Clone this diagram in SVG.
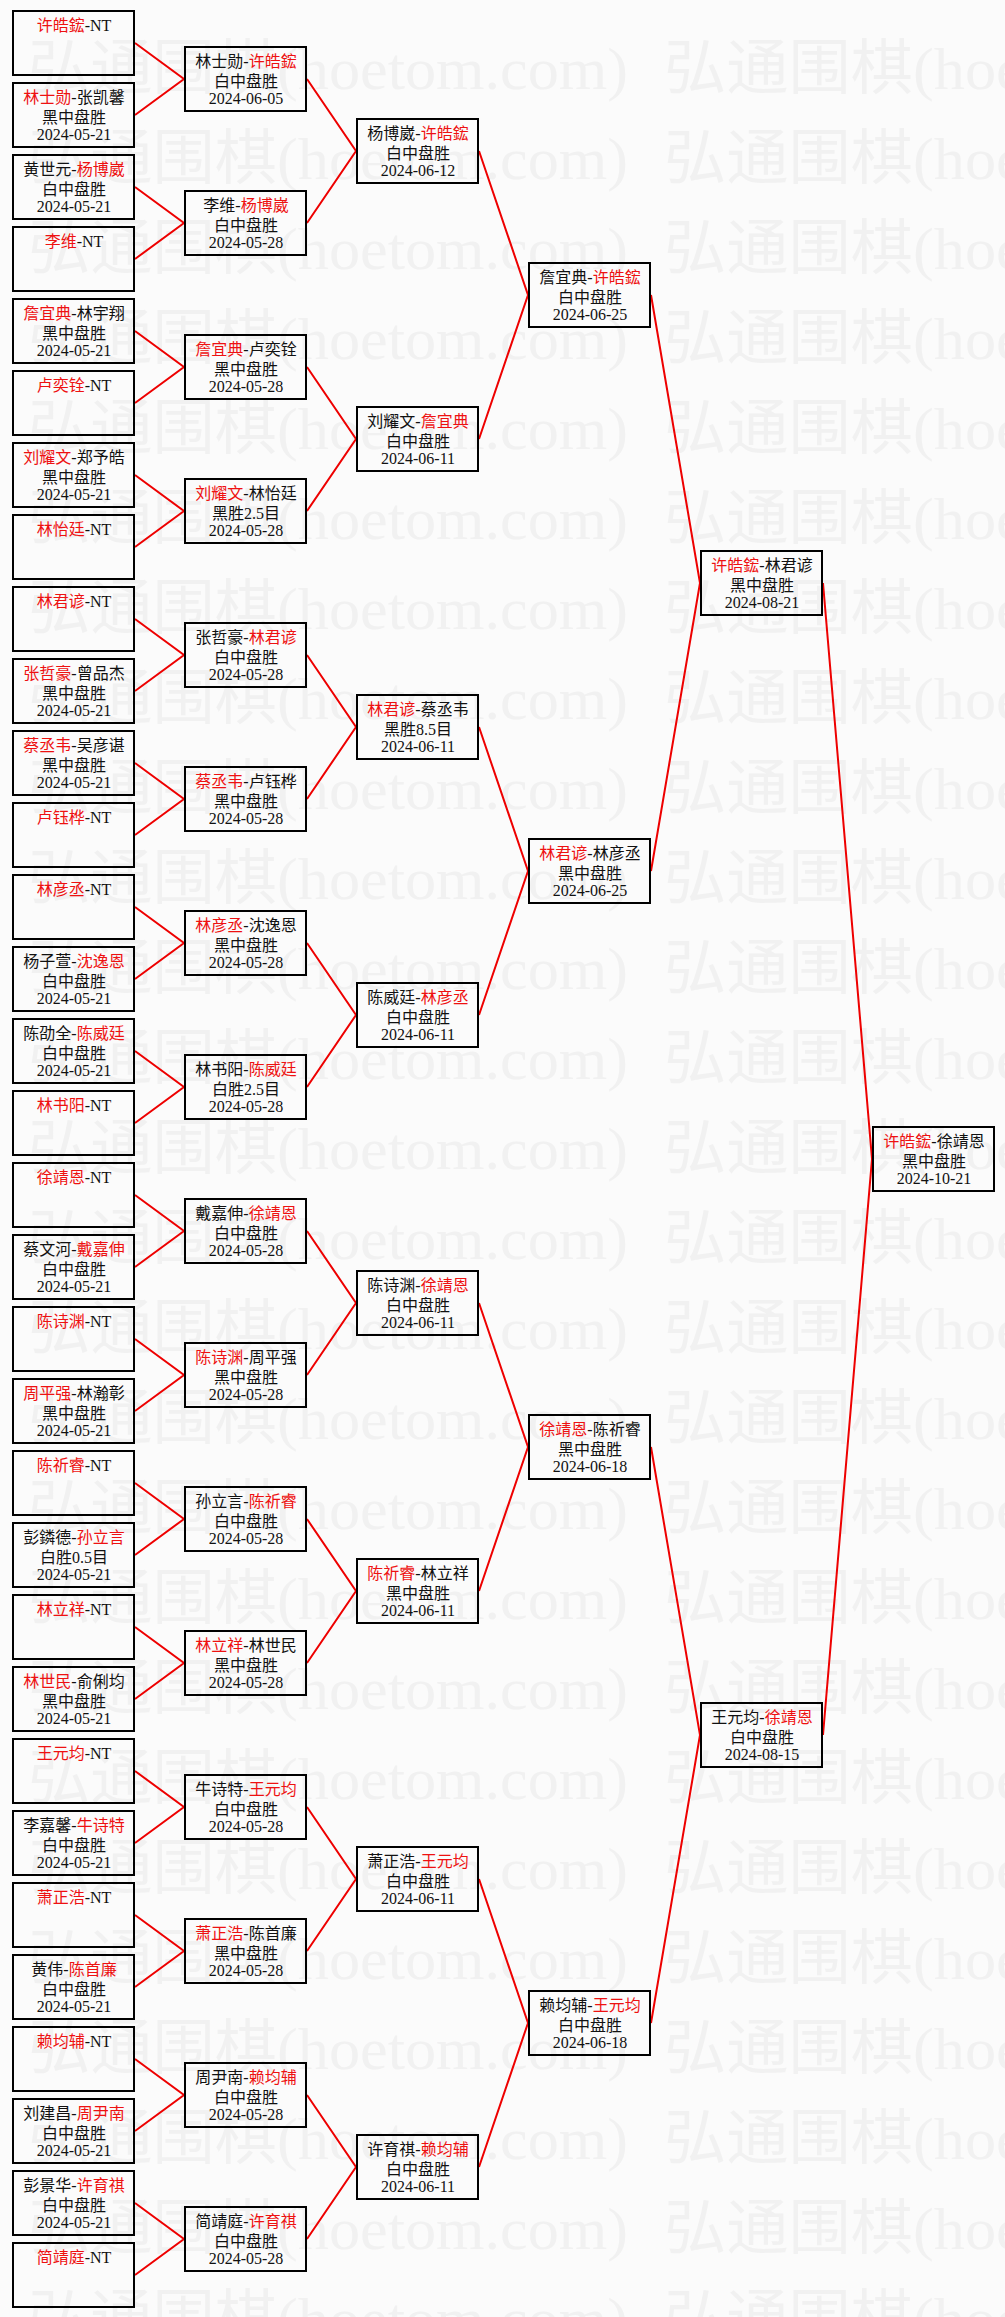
<svg xmlns="http://www.w3.org/2000/svg" xmlns:xlink="http://www.w3.org/1999/xlink" width="1005" height="2317" viewBox="0 0 1005 2317">
<style>
.box{fill:none;stroke:#000;stroke-width:2}
.t{font-family:"Liberation Serif","Noto Sans CJK SC",serif;font-size:16px;fill:#111;text-anchor:middle}
.r{fill:#ee1111}
.wm{font-family:"Liberation Serif","Noto Sans CJK SC",serif;font-size:60px;fill:#f1f1f1}
.c{stroke:#ee0000;stroke-width:2;fill:none}
</style>
<defs>
<g id="wmrow">
<text class="wm" x="28" y="0" textLength="600" lengthAdjust="spacingAndGlyphs">弘通围棋(hoetom.com)</text>
<text class="wm" x="664" y="0" textLength="600" lengthAdjust="spacingAndGlyphs">弘通围棋(hoetom.com)</text>
</g>
</defs>
<rect x="0" y="0" width="1005" height="2317" fill="#fbfbfb"/>
<g id="watermark">
<use xlink:href="#wmrow" y="89"/><use xlink:href="#wmrow" y="179"/><use xlink:href="#wmrow" y="269"/><use xlink:href="#wmrow" y="359"/>
<use xlink:href="#wmrow" y="449"/><use xlink:href="#wmrow" y="539"/><use xlink:href="#wmrow" y="629"/><use xlink:href="#wmrow" y="719"/>
<use xlink:href="#wmrow" y="809"/><use xlink:href="#wmrow" y="899"/><use xlink:href="#wmrow" y="989"/><use xlink:href="#wmrow" y="1079"/>
<use xlink:href="#wmrow" y="1169"/><use xlink:href="#wmrow" y="1259"/><use xlink:href="#wmrow" y="1349"/><use xlink:href="#wmrow" y="1439"/>
<use xlink:href="#wmrow" y="1529"/><use xlink:href="#wmrow" y="1619"/><use xlink:href="#wmrow" y="1709"/><use xlink:href="#wmrow" y="1799"/>
<use xlink:href="#wmrow" y="1889"/><use xlink:href="#wmrow" y="1979"/><use xlink:href="#wmrow" y="2069"/><use xlink:href="#wmrow" y="2159"/>
<use xlink:href="#wmrow" y="2249"/><use xlink:href="#wmrow" y="2339"/>
</g>
<g id="connectors">
<path class="c" d="M135 43L184 79L135 115M135 187L184 223L135 259M135 331L184 367L135 403M135 475L184 511L135 547M135 619L184 655L135 691M135 763L184 799L135 835M135 907L184 943L135 979M135 1051L184 1087L135 1123M135 1195L184 1231L135 1267M135 1339L184 1375L135 1411M135 1483L184 1519L135 1555M135 1627L184 1663L135 1699M135 1771L184 1807L135 1843M135 1915L184 1951L135 1987M135 2059L184 2095L135 2131M135 2203L184 2239L135 2275"/>
<path class="c" d="M307 79L356 151L307 223M307 367L356 439L307 511M307 655L356 727L307 799M307 943L356 1015L307 1087M307 1231L356 1303L307 1375M307 1519L356 1591L307 1663M307 1807L356 1879L307 1951M307 2095L356 2167L307 2239"/>
<path class="c" d="M479 151L528 295L479 439M479 727L528 871L479 1015M479 1303L528 1447L479 1591M479 1879L528 2023L479 2167"/>
<path class="c" d="M651 295L700 583L651 871M651 1447L700 1735L651 2023"/>
<path class="c" d="M823 583L872 1159L823 1735"/>
</g>
<g id="round1">
<g id="r1n1" transform="translate(12,10)"><rect class="box" x="1" y="1" width="121" height="64"/><text class="t" x="62" y="21"><tspan class="r">许皓鋐</tspan>-NT</text></g>
<g id="r1n2" transform="translate(12,82)"><rect class="box" x="1" y="1" width="121" height="64"/><text class="t" x="62" y="21"><tspan class="r">林士勋</tspan>-张凯馨</text><text class="t" x="62" y="40.5">黑中盘胜</text><text class="t" x="62" y="57.5">2024-05-21</text></g>
<g id="r1n3" transform="translate(12,154)"><rect class="box" x="1" y="1" width="121" height="64"/><text class="t" x="62" y="21">黄世元-<tspan class="r">杨博崴</tspan></text><text class="t" x="62" y="40.5">白中盘胜</text><text class="t" x="62" y="57.5">2024-05-21</text></g>
<g id="r1n4" transform="translate(12,226)"><rect class="box" x="1" y="1" width="121" height="64"/><text class="t" x="62" y="21"><tspan class="r">李维</tspan>-NT</text></g>
<g id="r1n5" transform="translate(12,298)"><rect class="box" x="1" y="1" width="121" height="64"/><text class="t" x="62" y="21"><tspan class="r">詹宜典</tspan>-林宇翔</text><text class="t" x="62" y="40.5">黑中盘胜</text><text class="t" x="62" y="57.5">2024-05-21</text></g>
<g id="r1n6" transform="translate(12,370)"><rect class="box" x="1" y="1" width="121" height="64"/><text class="t" x="62" y="21"><tspan class="r">卢奕铨</tspan>-NT</text></g>
<g id="r1n7" transform="translate(12,442)"><rect class="box" x="1" y="1" width="121" height="64"/><text class="t" x="62" y="21"><tspan class="r">刘耀文</tspan>-郑予皓</text><text class="t" x="62" y="40.5">黑中盘胜</text><text class="t" x="62" y="57.5">2024-05-21</text></g>
<g id="r1n8" transform="translate(12,514)"><rect class="box" x="1" y="1" width="121" height="64"/><text class="t" x="62" y="21"><tspan class="r">林怡廷</tspan>-NT</text></g>
<g id="r1n9" transform="translate(12,586)"><rect class="box" x="1" y="1" width="121" height="64"/><text class="t" x="62" y="21"><tspan class="r">林君谚</tspan>-NT</text></g>
<g id="r1n10" transform="translate(12,658)"><rect class="box" x="1" y="1" width="121" height="64"/><text class="t" x="62" y="21"><tspan class="r">张哲豪</tspan>-曾品杰</text><text class="t" x="62" y="40.5">黑中盘胜</text><text class="t" x="62" y="57.5">2024-05-21</text></g>
<g id="r1n11" transform="translate(12,730)"><rect class="box" x="1" y="1" width="121" height="64"/><text class="t" x="62" y="21"><tspan class="r">蔡丞韦</tspan>-吴彦谌</text><text class="t" x="62" y="40.5">黑中盘胜</text><text class="t" x="62" y="57.5">2024-05-21</text></g>
<g id="r1n12" transform="translate(12,802)"><rect class="box" x="1" y="1" width="121" height="64"/><text class="t" x="62" y="21"><tspan class="r">卢钰桦</tspan>-NT</text></g>
<g id="r1n13" transform="translate(12,874)"><rect class="box" x="1" y="1" width="121" height="64"/><text class="t" x="62" y="21"><tspan class="r">林彦丞</tspan>-NT</text></g>
<g id="r1n14" transform="translate(12,946)"><rect class="box" x="1" y="1" width="121" height="64"/><text class="t" x="62" y="21">杨子萱-<tspan class="r">沈逸恩</tspan></text><text class="t" x="62" y="40.5">白中盘胜</text><text class="t" x="62" y="57.5">2024-05-21</text></g>
<g id="r1n15" transform="translate(12,1018)"><rect class="box" x="1" y="1" width="121" height="64"/><text class="t" x="62" y="21">陈劭全-<tspan class="r">陈威廷</tspan></text><text class="t" x="62" y="40.5">白中盘胜</text><text class="t" x="62" y="57.5">2024-05-21</text></g>
<g id="r1n16" transform="translate(12,1090)"><rect class="box" x="1" y="1" width="121" height="64"/><text class="t" x="62" y="21"><tspan class="r">林书阳</tspan>-NT</text></g>
<g id="r1n17" transform="translate(12,1162)"><rect class="box" x="1" y="1" width="121" height="64"/><text class="t" x="62" y="21"><tspan class="r">徐靖恩</tspan>-NT</text></g>
<g id="r1n18" transform="translate(12,1234)"><rect class="box" x="1" y="1" width="121" height="64"/><text class="t" x="62" y="21">蔡文河-<tspan class="r">戴嘉伸</tspan></text><text class="t" x="62" y="40.5">白中盘胜</text><text class="t" x="62" y="57.5">2024-05-21</text></g>
<g id="r1n19" transform="translate(12,1306)"><rect class="box" x="1" y="1" width="121" height="64"/><text class="t" x="62" y="21"><tspan class="r">陈诗渊</tspan>-NT</text></g>
<g id="r1n20" transform="translate(12,1378)"><rect class="box" x="1" y="1" width="121" height="64"/><text class="t" x="62" y="21"><tspan class="r">周平强</tspan>-林瀚彰</text><text class="t" x="62" y="40.5">黑中盘胜</text><text class="t" x="62" y="57.5">2024-05-21</text></g>
<g id="r1n21" transform="translate(12,1450)"><rect class="box" x="1" y="1" width="121" height="64"/><text class="t" x="62" y="21"><tspan class="r">陈祈睿</tspan>-NT</text></g>
<g id="r1n22" transform="translate(12,1522)"><rect class="box" x="1" y="1" width="121" height="64"/><text class="t" x="62" y="21">彭鏻德-<tspan class="r">孙立言</tspan></text><text class="t" x="62" y="40.5">白胜0.5目</text><text class="t" x="62" y="57.5">2024-05-21</text></g>
<g id="r1n23" transform="translate(12,1594)"><rect class="box" x="1" y="1" width="121" height="64"/><text class="t" x="62" y="21"><tspan class="r">林立祥</tspan>-NT</text></g>
<g id="r1n24" transform="translate(12,1666)"><rect class="box" x="1" y="1" width="121" height="64"/><text class="t" x="62" y="21"><tspan class="r">林世民</tspan>-俞俐均</text><text class="t" x="62" y="40.5">黑中盘胜</text><text class="t" x="62" y="57.5">2024-05-21</text></g>
<g id="r1n25" transform="translate(12,1738)"><rect class="box" x="1" y="1" width="121" height="64"/><text class="t" x="62" y="21"><tspan class="r">王元均</tspan>-NT</text></g>
<g id="r1n26" transform="translate(12,1810)"><rect class="box" x="1" y="1" width="121" height="64"/><text class="t" x="62" y="21">李嘉馨-<tspan class="r">牛诗特</tspan></text><text class="t" x="62" y="40.5">白中盘胜</text><text class="t" x="62" y="57.5">2024-05-21</text></g>
<g id="r1n27" transform="translate(12,1882)"><rect class="box" x="1" y="1" width="121" height="64"/><text class="t" x="62" y="21"><tspan class="r">萧正浩</tspan>-NT</text></g>
<g id="r1n28" transform="translate(12,1954)"><rect class="box" x="1" y="1" width="121" height="64"/><text class="t" x="62" y="21">黄伟-<tspan class="r">陈首廉</tspan></text><text class="t" x="62" y="40.5">白中盘胜</text><text class="t" x="62" y="57.5">2024-05-21</text></g>
<g id="r1n29" transform="translate(12,2026)"><rect class="box" x="1" y="1" width="121" height="64"/><text class="t" x="62" y="21"><tspan class="r">赖均辅</tspan>-NT</text></g>
<g id="r1n30" transform="translate(12,2098)"><rect class="box" x="1" y="1" width="121" height="64"/><text class="t" x="62" y="21">刘建昌-<tspan class="r">周尹南</tspan></text><text class="t" x="62" y="40.5">白中盘胜</text><text class="t" x="62" y="57.5">2024-05-21</text></g>
<g id="r1n31" transform="translate(12,2170)"><rect class="box" x="1" y="1" width="121" height="64"/><text class="t" x="62" y="21">彭景华-<tspan class="r">许育祺</tspan></text><text class="t" x="62" y="40.5">白中盘胜</text><text class="t" x="62" y="57.5">2024-05-21</text></g>
<g id="r1n32" transform="translate(12,2242)"><rect class="box" x="1" y="1" width="121" height="64"/><text class="t" x="62" y="21"><tspan class="r">简靖庭</tspan>-NT</text></g>
</g>
<g id="round2">
<g id="r2n1" transform="translate(184,46)"><rect class="box" x="1" y="1" width="121" height="64"/><text class="t" x="62" y="21">林士勋-<tspan class="r">许皓鋐</tspan></text><text class="t" x="62" y="40.5">白中盘胜</text><text class="t" x="62" y="57.5">2024-06-05</text></g>
<g id="r2n2" transform="translate(184,190)"><rect class="box" x="1" y="1" width="121" height="64"/><text class="t" x="62" y="21">李维-<tspan class="r">杨博崴</tspan></text><text class="t" x="62" y="40.5">白中盘胜</text><text class="t" x="62" y="57.5">2024-05-28</text></g>
<g id="r2n3" transform="translate(184,334)"><rect class="box" x="1" y="1" width="121" height="64"/><text class="t" x="62" y="21"><tspan class="r">詹宜典</tspan>-卢奕铨</text><text class="t" x="62" y="40.5">黑中盘胜</text><text class="t" x="62" y="57.5">2024-05-28</text></g>
<g id="r2n4" transform="translate(184,478)"><rect class="box" x="1" y="1" width="121" height="64"/><text class="t" x="62" y="21"><tspan class="r">刘耀文</tspan>-林怡廷</text><text class="t" x="62" y="40.5">黑胜2.5目</text><text class="t" x="62" y="57.5">2024-05-28</text></g>
<g id="r2n5" transform="translate(184,622)"><rect class="box" x="1" y="1" width="121" height="64"/><text class="t" x="62" y="21">张哲豪-<tspan class="r">林君谚</tspan></text><text class="t" x="62" y="40.5">白中盘胜</text><text class="t" x="62" y="57.5">2024-05-28</text></g>
<g id="r2n6" transform="translate(184,766)"><rect class="box" x="1" y="1" width="121" height="64"/><text class="t" x="62" y="21"><tspan class="r">蔡丞韦</tspan>-卢钰桦</text><text class="t" x="62" y="40.5">黑中盘胜</text><text class="t" x="62" y="57.5">2024-05-28</text></g>
<g id="r2n7" transform="translate(184,910)"><rect class="box" x="1" y="1" width="121" height="64"/><text class="t" x="62" y="21"><tspan class="r">林彦丞</tspan>-沈逸恩</text><text class="t" x="62" y="40.5">黑中盘胜</text><text class="t" x="62" y="57.5">2024-05-28</text></g>
<g id="r2n8" transform="translate(184,1054)"><rect class="box" x="1" y="1" width="121" height="64"/><text class="t" x="62" y="21">林书阳-<tspan class="r">陈威廷</tspan></text><text class="t" x="62" y="40.5">白胜2.5目</text><text class="t" x="62" y="57.5">2024-05-28</text></g>
<g id="r2n9" transform="translate(184,1198)"><rect class="box" x="1" y="1" width="121" height="64"/><text class="t" x="62" y="21">戴嘉伸-<tspan class="r">徐靖恩</tspan></text><text class="t" x="62" y="40.5">白中盘胜</text><text class="t" x="62" y="57.5">2024-05-28</text></g>
<g id="r2n10" transform="translate(184,1342)"><rect class="box" x="1" y="1" width="121" height="64"/><text class="t" x="62" y="21"><tspan class="r">陈诗渊</tspan>-周平强</text><text class="t" x="62" y="40.5">黑中盘胜</text><text class="t" x="62" y="57.5">2024-05-28</text></g>
<g id="r2n11" transform="translate(184,1486)"><rect class="box" x="1" y="1" width="121" height="64"/><text class="t" x="62" y="21">孙立言-<tspan class="r">陈祈睿</tspan></text><text class="t" x="62" y="40.5">白中盘胜</text><text class="t" x="62" y="57.5">2024-05-28</text></g>
<g id="r2n12" transform="translate(184,1630)"><rect class="box" x="1" y="1" width="121" height="64"/><text class="t" x="62" y="21"><tspan class="r">林立祥</tspan>-林世民</text><text class="t" x="62" y="40.5">黑中盘胜</text><text class="t" x="62" y="57.5">2024-05-28</text></g>
<g id="r2n13" transform="translate(184,1774)"><rect class="box" x="1" y="1" width="121" height="64"/><text class="t" x="62" y="21">牛诗特-<tspan class="r">王元均</tspan></text><text class="t" x="62" y="40.5">白中盘胜</text><text class="t" x="62" y="57.5">2024-05-28</text></g>
<g id="r2n14" transform="translate(184,1918)"><rect class="box" x="1" y="1" width="121" height="64"/><text class="t" x="62" y="21"><tspan class="r">萧正浩</tspan>-陈首廉</text><text class="t" x="62" y="40.5">黑中盘胜</text><text class="t" x="62" y="57.5">2024-05-28</text></g>
<g id="r2n15" transform="translate(184,2062)"><rect class="box" x="1" y="1" width="121" height="64"/><text class="t" x="62" y="21">周尹南-<tspan class="r">赖均辅</tspan></text><text class="t" x="62" y="40.5">白中盘胜</text><text class="t" x="62" y="57.5">2024-05-28</text></g>
<g id="r2n16" transform="translate(184,2206)"><rect class="box" x="1" y="1" width="121" height="64"/><text class="t" x="62" y="21">简靖庭-<tspan class="r">许育祺</tspan></text><text class="t" x="62" y="40.5">白中盘胜</text><text class="t" x="62" y="57.5">2024-05-28</text></g>
</g>
<g id="round3">
<g id="r3n1" transform="translate(356,118)"><rect class="box" x="1" y="1" width="121" height="64"/><text class="t" x="62" y="21">杨博崴-<tspan class="r">许皓鋐</tspan></text><text class="t" x="62" y="40.5">白中盘胜</text><text class="t" x="62" y="57.5">2024-06-12</text></g>
<g id="r3n2" transform="translate(356,406)"><rect class="box" x="1" y="1" width="121" height="64"/><text class="t" x="62" y="21">刘耀文-<tspan class="r">詹宜典</tspan></text><text class="t" x="62" y="40.5">白中盘胜</text><text class="t" x="62" y="57.5">2024-06-11</text></g>
<g id="r3n3" transform="translate(356,694)"><rect class="box" x="1" y="1" width="121" height="64"/><text class="t" x="62" y="21"><tspan class="r">林君谚</tspan>-蔡丞韦</text><text class="t" x="62" y="40.5">黑胜8.5目</text><text class="t" x="62" y="57.5">2024-06-11</text></g>
<g id="r3n4" transform="translate(356,982)"><rect class="box" x="1" y="1" width="121" height="64"/><text class="t" x="62" y="21">陈威廷-<tspan class="r">林彦丞</tspan></text><text class="t" x="62" y="40.5">白中盘胜</text><text class="t" x="62" y="57.5">2024-06-11</text></g>
<g id="r3n5" transform="translate(356,1270)"><rect class="box" x="1" y="1" width="121" height="64"/><text class="t" x="62" y="21">陈诗渊-<tspan class="r">徐靖恩</tspan></text><text class="t" x="62" y="40.5">白中盘胜</text><text class="t" x="62" y="57.5">2024-06-11</text></g>
<g id="r3n6" transform="translate(356,1558)"><rect class="box" x="1" y="1" width="121" height="64"/><text class="t" x="62" y="21"><tspan class="r">陈祈睿</tspan>-林立祥</text><text class="t" x="62" y="40.5">黑中盘胜</text><text class="t" x="62" y="57.5">2024-06-11</text></g>
<g id="r3n7" transform="translate(356,1846)"><rect class="box" x="1" y="1" width="121" height="64"/><text class="t" x="62" y="21">萧正浩-<tspan class="r">王元均</tspan></text><text class="t" x="62" y="40.5">白中盘胜</text><text class="t" x="62" y="57.5">2024-06-11</text></g>
<g id="r3n8" transform="translate(356,2134)"><rect class="box" x="1" y="1" width="121" height="64"/><text class="t" x="62" y="21">许育祺-<tspan class="r">赖均辅</tspan></text><text class="t" x="62" y="40.5">白中盘胜</text><text class="t" x="62" y="57.5">2024-06-11</text></g>
</g>
<g id="round4">
<g id="r4n1" transform="translate(528,262)"><rect class="box" x="1" y="1" width="121" height="64"/><text class="t" x="62" y="21">詹宜典-<tspan class="r">许皓鋐</tspan></text><text class="t" x="62" y="40.5">白中盘胜</text><text class="t" x="62" y="57.5">2024-06-25</text></g>
<g id="r4n2" transform="translate(528,838)"><rect class="box" x="1" y="1" width="121" height="64"/><text class="t" x="62" y="21"><tspan class="r">林君谚</tspan>-林彦丞</text><text class="t" x="62" y="40.5">黑中盘胜</text><text class="t" x="62" y="57.5">2024-06-25</text></g>
<g id="r4n3" transform="translate(528,1414)"><rect class="box" x="1" y="1" width="121" height="64"/><text class="t" x="62" y="21"><tspan class="r">徐靖恩</tspan>-陈祈睿</text><text class="t" x="62" y="40.5">黑中盘胜</text><text class="t" x="62" y="57.5">2024-06-18</text></g>
<g id="r4n4" transform="translate(528,1990)"><rect class="box" x="1" y="1" width="121" height="64"/><text class="t" x="62" y="21">赖均辅-<tspan class="r">王元均</tspan></text><text class="t" x="62" y="40.5">白中盘胜</text><text class="t" x="62" y="57.5">2024-06-18</text></g>
</g>
<g id="round5">
<g id="r5n1" transform="translate(700,550)"><rect class="box" x="1" y="1" width="121" height="64"/><text class="t" x="62" y="21"><tspan class="r">许皓鋐</tspan>-林君谚</text><text class="t" x="62" y="40.5">黑中盘胜</text><text class="t" x="62" y="57.5">2024-08-21</text></g>
<g id="r5n2" transform="translate(700,1702)"><rect class="box" x="1" y="1" width="121" height="64"/><text class="t" x="62" y="21">王元均-<tspan class="r">徐靖恩</tspan></text><text class="t" x="62" y="40.5">白中盘胜</text><text class="t" x="62" y="57.5">2024-08-15</text></g>
</g>
<g id="final">
<g id="r6n1" transform="translate(872,1126)"><rect class="box" x="1" y="1" width="121" height="64"/><text class="t" x="62" y="21"><tspan class="r">许皓鋐</tspan>-徐靖恩</text><text class="t" x="62" y="40.5">黑中盘胜</text><text class="t" x="62" y="57.5">2024-10-21</text></g>
</g>
</svg>
